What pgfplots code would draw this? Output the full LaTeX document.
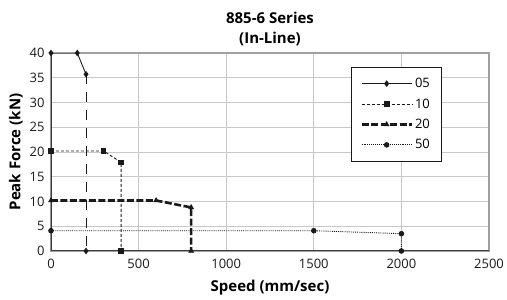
\documentclass[border=0pt]{standalone}
\usepackage{pgfplots}
\pgfplotsset{compat=1.18}
\usepackage{fontspec}
\setmainfont{Open Sans}
\definecolor{gridc}{HTML}{C8C8C8}
\definecolor{framec}{HTML}{A0A0A0}
\definecolor{ink}{HTML}{1A1A1A}
\begin{document}
\begin{tikzpicture}
\begin{axis}[
  name=ax,
  scale only axis, width=438pt, height=198pt,
  xmin=0, xmax=2500, ymin=0, ymax=40,
  xtick={0,500,...,2500}, ytick={0,5,...,40},
  grid=major, major grid style={gridc, line width=1pt},
  axis line style={framec, line width=2.5pt},
  tick style={draw=none},
  /pgf/number format/assume math mode=true,
  /pgf/number format/1000 sep={},
  tick label style={font=\fontsize{13}{15}\selectfont, text=ink},
  xticklabel style={yshift=-5pt},
  yticklabel style={xshift=-3pt},
  title={\textbf{885-6 Series}\\\textbf{(In-Line)}},
  title style={align=center, font=\fontsize{15}{20}\selectfont, yshift=-2.5pt},
  xlabel={\textbf{Speed (mm/sec)}},
  ylabel={\textbf{Peak Force (kN)}},
  label style={font=\fontsize{15}{17}\selectfont},
  xlabel style={yshift=-4pt},
  legend style={at={(0.685,0.93)}, anchor=north west, draw=ink, line width=0.6pt,
     font=\fontsize{13}{15}\selectfont, row sep=5.5pt, inner xsep=9pt, inner ysep=9pt,
     cells={anchor=west}},
  legend image code/.code={\draw[mark repeat=2,mark phase=2,#1] plot coordinates {(0cm,0cm)(0.88cm,0cm)(1.76cm,0cm)};},
]
\addplot[ink, line width=0.9pt, mark=diamond*, mark size=2.6pt, mark options={solid}]
  coordinates {(0,40) (150,40) (200,35.7)};
\addlegendentry{05}
\addplot[ink, line width=0.9pt, dash pattern=on 3pt off 2pt, mark=square*, mark size=2.3pt, mark options={solid}]
  coordinates {(0,20.2) (300,20.2) (400,17.9) (400,0)};
\addlegendentry{10}
\addplot[ink, line width=2.6pt, dash pattern=on 7pt off 2.5pt, mark=triangle*, mark size=2.8pt, mark options={solid, line width=0.6pt}]
  coordinates {(0,10.2) (600,10.2) (800,8.8) (800,0)};
\addlegendentry{20}
\addplot[ink, line width=0.9pt, densely dotted, mark=*, mark size=2.3pt, mark options={solid}]
  coordinates {(0,4.1) (1500,4.1) (2000,3.5) (2000,0)};
\addlegendentry{50}
\addplot[ink, line width=0.9pt, dash pattern=on 10pt off 8pt, mark=diamond*, mark size=2.6pt, mark options={solid}, mark indices={2}, forget plot]
  coordinates {(200,35.7) (200,0)};
\draw[ink!85, line width=2pt] (rel axis cs:0,1.005) -- (rel axis cs:0,0) -- (rel axis cs:1,0);
\end{axis}
\pgfresetboundingbox
\path (ax.south west) ++(-51pt,-49pt) rectangle ++(507pt,300pt);
\end{tikzpicture}
\end{document}
